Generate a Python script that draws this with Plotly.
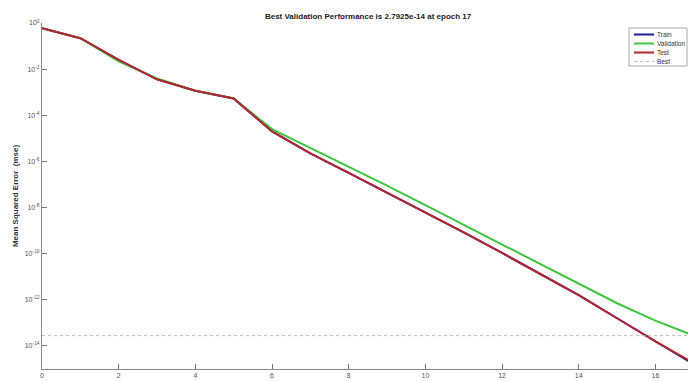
import plotly.graph_objects as go

epochs = list(range(18))
train_log = [-0.23, -0.66, -1.60, -2.44, -2.94, -3.27, -4.70, -5.65, -6.50, -7.35, -8.20, -9.08, -9.97, -10.88, -11.80, -12.80, -13.80, -14.80]
val_log = [-0.23, -0.66, -1.66, -2.40, -2.94, -3.27, -4.60, -5.42, -6.22, -7.05, -7.90, -8.75, -9.62, -10.45, -11.30, -12.15, -12.90, -13.554]
test_log = [-0.23, -0.66, -1.60, -2.44, -2.94, -3.27, -4.70, -5.65, -6.50, -7.35, -8.20, -9.08, -9.97, -10.88, -11.80, -12.80, -13.80, -14.75]
best_value = 2.7925e-14
best_epoch = 17

train = [10 ** v for v in train_log]
val = [10 ** v for v in val_log]
test = [10 ** v for v in test_log]

x_ticks = [0, 2, 4, 6, 8, 10, 12, 14, 16]
y_exps = [0, -2, -4, -6, -8, -10, -12, -14]
y_tickvals = [10 ** e for e in y_exps]
y_ticktext = ["10<sup>%d</sup>" % e for e in y_exps]

series = [
    ("Train", train, dict(color="#1a1a9a", width=2)),
    ("Validation", val, dict(color="#3fc43f", width=2)),
    ("Test", test, dict(color="#b5262e", width=2)),
]

fig = go.Figure()
for name, ys, ln in series:
    fig.add_trace(go.Scatter(x=epochs, y=ys, name=name, mode="lines", line=ln))
best_line = dict(color="#bbbbbb", width=1, dash="dot")
fig.add_trace(go.Scatter(x=[0, best_epoch], y=[best_value, best_value], name="Best",
                         mode="lines", line=best_line))

# compact legend drawn in pixel-based paper coordinates (plot area 42..688 x 23..369)
W, H = 688, 381
L, T, B = 42, 23, 12
pw, ph = W - L, H - T - B

def px(x):
    return (x - L) / pw

def py(y):
    return 1 - (y - T) / ph

fig.add_shape(type="rect", xref="paper", yref="paper",
              x0=px(629), x1=px(687), y0=py(28), y1=py(66),
              line=dict(color="#aaaaaa", width=1), fillcolor="white", layer="above")
legend_items = [(name, ln) for name, _, ln in series] + [("Best", best_line)]
for i, (name, ln) in enumerate(legend_items):
    yy = 34.5 + 9 * i
    fig.add_shape(type="line", xref="paper", yref="paper",
                  x0=px(634), x1=px(654), y0=py(yy), y1=py(yy),
                  line=dict(color=ln["color"], width=ln["width"], dash=ln.get("dash", "solid")),
                  layer="above")
    fig.add_annotation(xref="paper", yref="paper", x=px(655), y=py(yy), text=name,
                       showarrow=False, xanchor="left", yanchor="middle",
                       font=dict(size=6.5, color="#333333"))

fig.update_layout(
    width=W, height=H,
    margin=dict(l=L, r=0, t=T, b=B),
    paper_bgcolor="white", plot_bgcolor="white",
    font=dict(family="Liberation Sans, Arial, sans-serif", size=7, color="#555555"),
    title=dict(text="<b>Best Validation Performance is 2.7925e-14 at epoch 17</b>",
               x=0.535, xanchor="center", xref="container",
               y=0.958, yanchor="middle", yref="container",
               font=dict(size=8, color="#222222")),
    showlegend=False,
    xaxis=dict(range=[0, 16.85], tickvals=x_ticks, ticks="inside", ticklen=5,
               tickcolor="#777777", showline=True, linecolor="#888888", linewidth=1,
               showgrid=False, zeroline=False,
               tickfont=dict(size=7, color="#555555")),
    yaxis=dict(type="log", range=[-15, 0], tickvals=y_tickvals, ticktext=y_ticktext,
               ticks="inside", ticklen=5, tickcolor="#777777", showline=True,
               linecolor="#888888", linewidth=1, showgrid=False, zeroline=False,
               tickfont=dict(size=7, color="#555555"),
               title=dict(text="<b>Mean Squared Error  (mse)</b>", standoff=4,
                          font=dict(size=8, color="#333333"))),
)

fig.write_html("out.html", config={"displayModeBar": False},
               post_script="document.body.style.margin='0';document.body.style.overflow='hidden';")
